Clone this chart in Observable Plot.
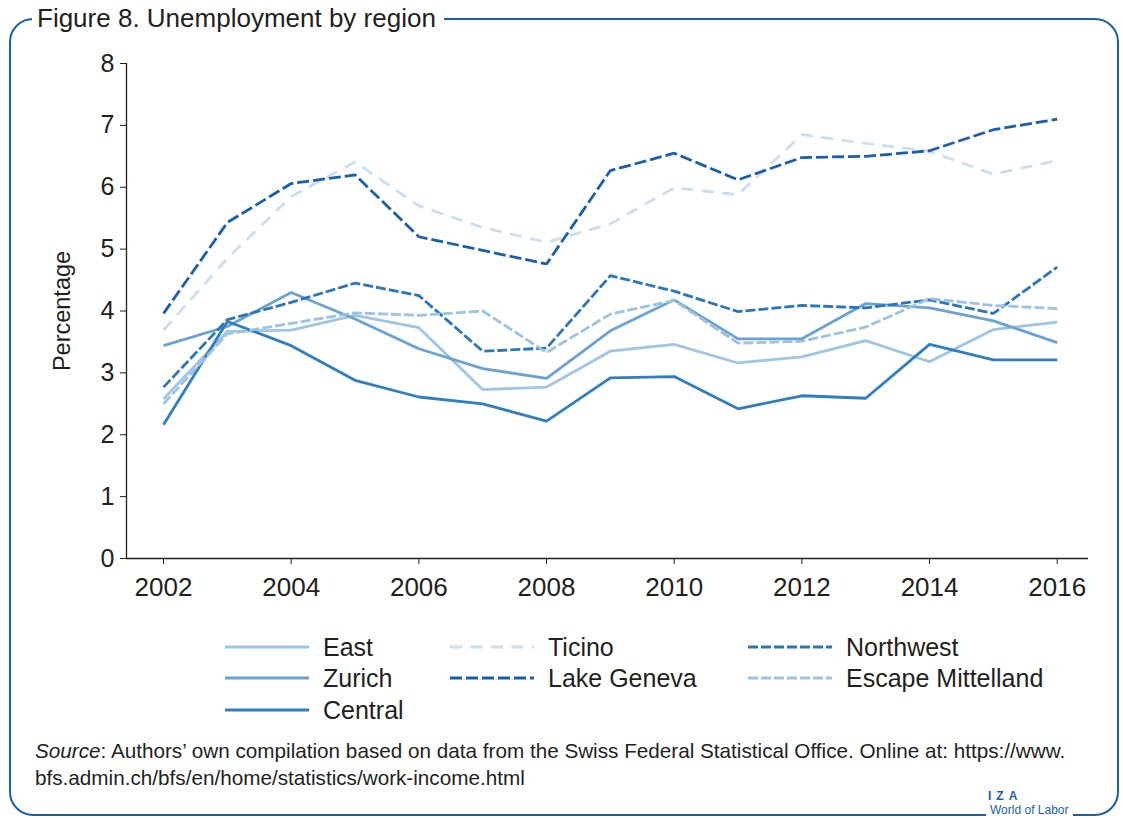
<!DOCTYPE html>
<html>
<head>
<meta charset="utf-8">
<script src="https://cdn.jsdelivr.net/npm/d3@7"></script>
<script src="https://cdn.jsdelivr.net/npm/@observablehq/plot@0.6"></script>
<style>
  html, body { margin: 0; padding: 0; background: #fff; }
  body { width: 1123px; height: 818px; position: relative; overflow: hidden; font-family: "Liberation Sans", Arial, sans-serif; color: #231f20; }
  #frame { position: absolute; left: 9px; top: 18px; width: 1106px; height: 794px; border: 2.5px solid #1a5fa8; border-radius: 24px; }
  #title { position: absolute; left: 32px; top: 3px; background: #fff; padding: 0 8px 0 5px; font-size: 26px; line-height: 30px; color: #231f20; }
  #chart { position: absolute; left: 0; top: 0; }
  #legend { position: absolute; left: 0; top: 632px; width: 1123px; height: 96px; }
  .item { position: absolute; display: flex; align-items: center; font-size: 25px; height: 30px; }
  .item svg { margin-right: 14px; }
  #caption { position: absolute; left: 35px; top: 737px; font-size: 20.7px; line-height: 27px; color: #231f20; white-space: nowrap; }
  #iza { position: absolute; left: 982px; top: 790px; background: #fff; padding: 0 6px; color: #1a5fa8; font-size: 12px; line-height: 12px; font-weight: bold; letter-spacing: 5px; }
  #wol { position: absolute; left: 986px; top: 804px; background: #fff; padding: 0 4px; color: #1a5fa8; font-size: 12px; line-height: 13px; }
</style>
</head>
<body>
<div id="frame"></div>
<div id="title">Figure 8. Unemployment by region</div>
<div id="chart"></div>
<div id="legend"></div>
<div id="caption"><i>Source</i>: Authors’ own compilation based on data from the Swiss Federal Statistical Office. Online at: https://www.<br>bfs.admin.ch/bfs/en/home/statistics/work-income.html</div>
<div id="iza">IZA</div>
<div id="wol">World of Labor</div>
<script>
// ---- data ----
const years = [2002, 2003, 2004, 2005, 2006, 2007, 2008, 2009, 2010, 2011, 2012, 2013, 2014, 2015, 2016];
const regions = ["East", "Zurich", "Central", "Ticino", "Lake Geneva", "Northwest", "Escape Mittelland"];
const east        = [2.58, 3.67, 3.69, 3.93, 3.73, 2.73, 2.77, 3.35, 3.46, 3.16, 3.26, 3.52, 3.18, 3.70, 3.82];
const zurich      = [3.44, 3.75, 4.30, 3.87, 3.39, 3.07, 2.91, 3.68, 4.18, 3.55, 3.55, 4.12, 4.05, 3.84, 3.49];
const central     = [2.16, 3.83, 3.44, 2.88, 2.61, 2.50, 2.22, 2.92, 2.94, 2.42, 2.63, 2.59, 3.46, 3.21, 3.21];
const ticino      = [3.69, 4.85, 5.85, 6.41, 5.70, 5.35, 5.11, 5.41, 5.99, 5.88, 6.85, 6.71, 6.58, 6.21, 6.43];
const lakeGeneva  = [3.96, 5.43, 6.06, 6.20, 5.20, 4.98, 4.76, 6.27, 6.55, 6.12, 6.48, 6.50, 6.59, 6.93, 7.10];
const northwest   = [2.77, 3.86, 4.14, 4.45, 4.25, 3.35, 3.40, 4.57, 4.32, 3.99, 4.09, 4.05, 4.18, 3.96, 4.71];
const mittelland  = [2.50, 3.63, 3.80, 3.97, 3.93, 4.00, 3.33, 3.95, 4.17, 3.48, 3.51, 3.74, 4.20, 4.09, 4.04];
const seriesValues = [east, zurich, central, ticino, lakeGeneva, northwest, mittelland];
const xTicks = [2002, 2004, 2006, 2008, 2010, 2012, 2014, 2016];
const yTicks = [0, 1, 2, 3, 4, 5, 6, 7, 8];

// ---- styles ----
const colors = ["#9fc4e4", "#6aa2d2", "#2f7fc0", "#c9def0", "#1a5fab", "#2a76bb", "#9dc3e3"];
const dashes = [null, null, null, "12,8.5", "12,4", "10,3", "10,3"];

const rows = [];
regions.forEach((r, i) => years.forEach((yr, j) => rows.push({region: r, year: yr, value: seriesValues[i][j]})));

const W = 1123;
const marks = [
  Plot.ruleY([0], {stroke: "#231f20", strokeWidth: 1.3}),
  Plot.ruleX([2001.42], {y1: 0, y2: 8, stroke: "#231f20", strokeWidth: 1.3})
];
regions.forEach((r, i) => {
  marks.push(Plot.line(rows.filter(d => d.region === r), {
    x: "year", y: "value", stroke: colors[i], strokeWidth: 2.8,
    strokeDasharray: dashes[i] || undefined, strokeLinejoin: "miter", strokeLinecap: "butt"
  }));
});

const chart = Plot.plot({
  width: W,
  height: 610,
  marginLeft: 126,
  marginRight: W - 1088,
  marginTop: 63,
  marginBottom: 52,
  style: {fontFamily: "Liberation Sans, Arial, sans-serif", color: "#231f20", background: "transparent"},
  x: {domain: [2001.42, 2016.49], label: null},
  y: {domain: [0, 8], label: null},
  marks: [
    Plot.axisX({ticks: xTicks, tickFormat: d => String(d), tickSize: 6, tickPadding: 13, fontSize: 26, label: null, stroke: "#231f20"}),
    Plot.axisY({ticks: yTicks, tickSize: 6, tickPadding: 6, fontSize: 25, label: null, stroke: "#231f20"}),
    Plot.axisY({ticks: [], label: "Percentage", labelAnchor: "center", labelOffset: 73, labelArrow: "none", fontSize: 23.5}),
    ...marks
  ]
});
document.getElementById("chart").appendChild(chart);

// ---- legend ----
const legendPos = [
  [225, 0], [225, 31], [225, 63],
  [450, 0], [450, 31],
  [748, 0], [748, 31]
];
const legend = document.getElementById("legend");
regions.forEach((r, i) => {
  const div = document.createElement("div");
  div.className = "item";
  div.style.left = legendPos[i][0] + "px";
  div.style.top = legendPos[i][1] + "px";
  const svg = d3.create("svg").attr("width", 84).attr("height", 10);
  svg.append("line").attr("x1", 0).attr("x2", 84).attr("y1", 5).attr("y2", 5)
    .attr("stroke", colors[i]).attr("stroke-width", 3)
    .attr("stroke-dasharray", dashes[i] || null);
  div.appendChild(svg.node());
  const span = document.createElement("span");
  span.textContent = r;
  div.appendChild(span);
  legend.appendChild(div);
});
</script>
</body>
</html>
